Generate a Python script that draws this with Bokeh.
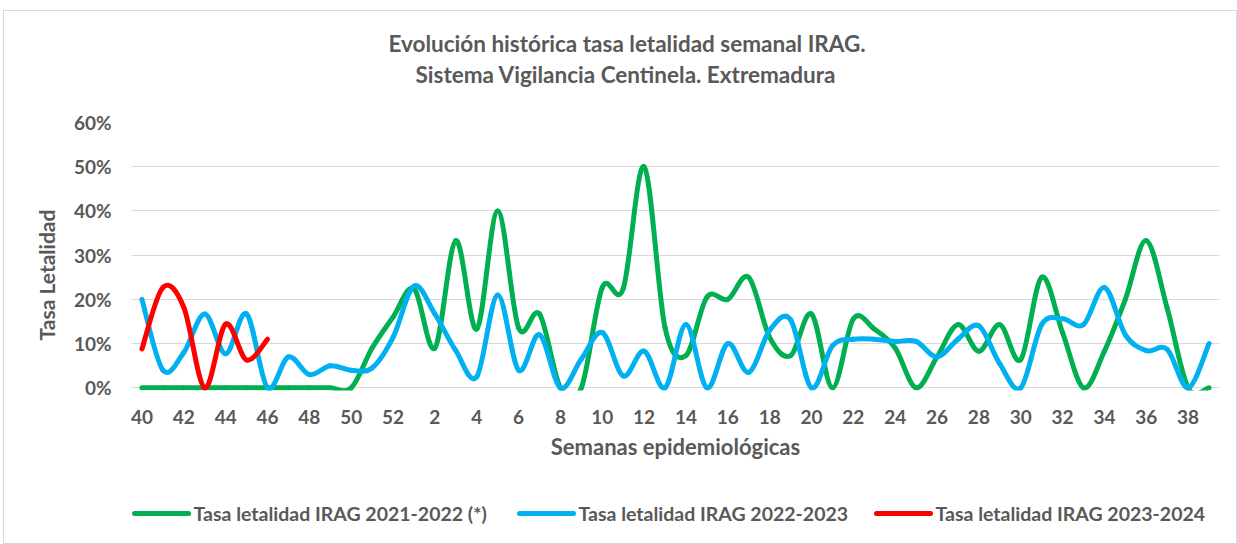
from bokeh.plotting import figure
from bokeh.layouts import column
from bokeh.models import FixedTicker, NumeralTickFormatter, Range1d, Title, ColumnDataSource
from bokeh.core.properties import value
from bokeh.embed import file_html
from bokeh.resources import INLINE

weeks = [str(w) for w in list(range(40, 53)) + list(range(1, 40))]

tasa_2021_2022 = [0, 0, 0, 0, 0, 0, 0, 0, 0, 0, 0, 9, 16,
                  22.4, 9, 33.3, 13.3, 40, 13.6, 16.7, 0, 0, 22.7, 22.4, 50, 13.6,
                  7.3, 20.5, 20, 25, 11.4, 7.3, 16.7, 0, 15.6, 13.3, 9, 0, 7,
                  14.3, 8.3, 14.3, 6.4, 25, 12.5, 0, 8.3, 20, 33.3, 18, 0, 0]
tasa_2022_2023 = [20, 4, 8, 16.7, 7.7, 16.7, 0, 7, 3, 5, 4, 4.5, 11.4,
                  23, 16.7, 8.4, 2.5, 21, 4, 12, 0, 6.5, 12.5, 2.7, 8.3, 0,
                  14.3, 0, 10, 3.5, 13, 15.4, 0, 9.5, 11, 11, 10.5, 10.5, 7,
                  11, 14, 5.4, 0, 14.3, 15.6, 14.3, 22.7, 12, 8.4, 8.7, 0, 10]
tasa_2023_2024 = [8.8, 22.7, 18.2, 0, 14.4, 6.3, 11]

series_names = ["Tasa letalidad IRAG 2021-2022 (*)",
                "Tasa letalidad IRAG 2022-2023",
                "Tasa letalidad IRAG 2023-2024"]
series_colors = ["#00B050", "#00B0F0", "#FF0000"]

FONT = "Lato"
TXT = "#595959"
W = 1232

p = figure(width=W, height=459, output_backend="svg", toolbar_location=None,
           x_range=Range1d(-0.5, len(weeks) - 0.5), y_range=Range1d(-0.006, 0.6),
           min_border_left=127, min_border_right=17, min_border_top=111, min_border_bottom=80)
p.outline_line_color = None
p.background_fill_color = "white"
p.border_fill_color = "white"

# axes
p.xaxis.ticker = FixedTicker(ticks=list(range(0, len(weeks), 2)))
p.xaxis.major_label_overrides = {i: weeks[i] for i in range(len(weeks))}
p.yaxis.ticker = FixedTicker(ticks=[0, 0.1, 0.2, 0.3, 0.4, 0.5, 0.6])
p.yaxis.formatter = NumeralTickFormatter(format="0%")
for ax in (p.xaxis[0], p.yaxis[0]):
    ax.axis_line_color = None
    ax.major_tick_line_color = None
    ax.minor_tick_line_color = None
    ax.major_tick_out = 0
    ax.major_tick_in = 0
    ax.minor_tick_out = 0
    ax.major_label_text_font = FONT
    ax.major_label_text_font_style = "bold"
    ax.major_label_text_font_size = "19px"
    ax.major_label_text_color = TXT
    ax.axis_label_text_font = FONT
    ax.axis_label_text_font_style = "bold"
    ax.axis_label_text_color = TXT
p.xaxis.axis_label_text_font_size = "22px"
p.yaxis.major_label_standoff = 20
p.xaxis.major_label_standoff = 19
p.xaxis.axis_label = "Semanas epidemiológicas"
p.xaxis.axis_label_standoff = 6
p.xgrid.grid_line_color = None
p.ygrid.grid_line_color = "#D9D9D9"
p.ygrid.grid_line_width = 1

# y-axis title as a side title, slightly below the frame centre as in the reference
p.add_layout(Title(text="Tasa Letalidad", align="left", offset=50, standoff=24,
                   text_font=FONT, text_font_style="bold", text_font_size="21px",
                   text_color=TXT), "left")


def smooth(xs, ys):
    n = len(ys)
    d = dict(x0=[], y0=[], x1=[], y1=[], cx0=[], cy0=[], cx1=[], cy1=[])
    for i in range(n - 1):
        a = max(i - 1, 0)
        b = min(i + 2, n - 1)
        d["x0"].append(xs[i]); d["y0"].append(ys[i])
        d["x1"].append(xs[i + 1]); d["y1"].append(ys[i + 1])
        d["cx0"].append(xs[i] + (xs[i + 1] - xs[a]) / 6)
        d["cy0"].append(ys[i] + (ys[i + 1] - ys[a]) / 6)
        d["cx1"].append(xs[i + 1] - (xs[b] - xs[i]) / 6)
        d["cy1"].append(ys[i + 1] - (ys[b] - ys[i]) / 6)
    return d


for vals, color in zip([tasa_2021_2022, tasa_2022_2023, tasa_2023_2024], series_colors):
    xs = list(range(len(vals)))
    ys = [v / 100 for v in vals]
    p.bezier(source=smooth(xs, ys), x0="x0", y0="y0", x1="x1", y1="y1", cx0="cx0", cy0="cy0",
             cx1="cx1", cy1="cy1", line_color=color, line_width=5, line_cap="round")

# titles: spacer nearest the frame, then line 2, then line 1
p.add_layout(Title(text=" ", text_font_size="1px", standoff=31), "above")
p.add_layout(Title(text="Sistema  Vigilancia Centinela. Extremadura", align="left", offset=284,
                   text_font=FONT, text_font_style="bold", text_font_size="22.5px",
                   text_color=TXT, standoff=2), "above")
p.add_layout(Title(text="Evolución histórica tasa letalidad semanal IRAG.", align="left", offset=257,
                   text_font=FONT, text_font_style="bold", text_font_size="22.5px",
                   text_color=TXT, standoff=2), "above")

# legend strip; its frame is aligned with the chart frame (page x 131..1219)
LH = 73
leg = figure(width=W, height=LH, output_backend="svg", toolbar_location=None,
             x_range=Range1d(131, 1219), y_range=Range1d(0, LH), x_axis_type=None, y_axis_type=None,
             min_border_left=0, min_border_right=0, min_border_top=0, min_border_bottom=0)
leg.outline_line_color = None
leg.grid.visible = False
leg.background_fill_color = "white"
leg.border_fill_color = "white"
swatch_left = [134, 519, 876]
sw_len = 54
gap = 5
ly = 30
src = ColumnDataSource(dict(
    x0=swatch_left, x1=[s + sw_len for s in swatch_left], y=[ly] * 3,
    tx=[s + sw_len + gap for s in swatch_left], label=series_names, color=series_colors))
leg.segment(x0="x0", y0="y", x1="x1", y1="y", source=src, line_color="color",
            line_width=5, line_cap="round")
leg.text(x="tx", y="y", text="label", source=src, text_font=value(FONT),
         text_font_style="bold", text_font_size="19.5px", text_color=TXT,
         text_baseline="middle", text_align="left")

layout = column(p, leg, spacing=0,
                styles={"border": "1px solid #D9D9D9", "margin-left": "3px", "margin-top": "10px"})

open("out.html", "w").write(file_html(layout, INLINE))
